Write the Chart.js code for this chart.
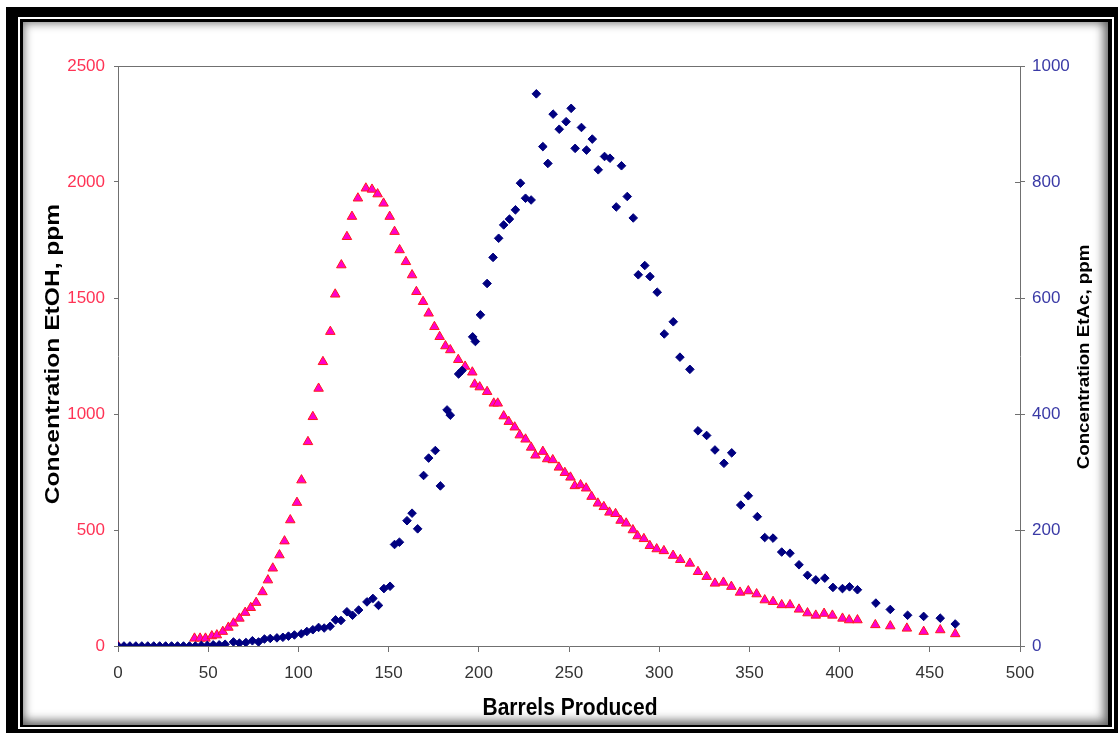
<!DOCTYPE html>
<html>
<head>
<meta charset="utf-8">
<title>EtOH / EtAc vs Barrels Produced</title>
<script src="https://cdn.jsdelivr.net/npm/chart.js@4.4.0/dist/chart.umd.min.js"></script>
<style>
    html, body { margin: 0; padding: 0; background: #fff; }
    body { width: 1118px; height: 736px; position: relative; overflow: hidden; }
    .box { position: absolute; }
    #frameOuter { left: 6px; top: 7px; width: 1112px; height: 726px; background: #000; }
    #frameGap { left: 18px; top: 17px; width: 1096px; height: 712px; background: #fff; }
    #frameLine { left: 20px; top: 19px; width: 1092px; height: 708px; background: #000; }
    #frameInner {
        left: 23px; top: 22px; width: 1085px; height: 703px; background: #fff;
        box-shadow: inset 0 0 9px 2px rgba(0, 0, 0, 0.45), inset -6px -6px 10px rgba(0, 0, 0, 0.3);
    }
    #c { position: absolute; left: 0; top: 0; }
</style>
</head>
<body>
<div class="box" id="frameOuter"></div>
<div class="box" id="frameGap"></div>
<div class="box" id="frameLine"></div>
<div class="box" id="frameInner"></div>
<canvas id="c" width="1118" height="736"></canvas>

<script>
// EtOH (left axis, ppm) - pink triangles
const etohX = [0, 42.4, 45.5, 48.5, 52, 54.8, 58.1, 61.2, 64, 67.3, 70.5, 73.6, 76.6, 80.1, 83.1, 85.8, 89.5, 92.3, 95.5,
    99.2, 101.7, 105.3, 108, 111.2, 113.6, 117.7, 120.4, 123.8, 126.9, 129.7, 133, 137.4, 140.8, 143.9, 147.2, 150.6,
    153.3, 156.1, 159.6, 163, 165.4, 169.1, 172.2, 175.4, 178.3, 181.5, 184.2, 188.6, 192.4, 196.4, 197.7, 200.5, 204.6,
    208.3, 210.5, 213.8, 216.6, 219.9, 222.7, 225.9, 229, 231.4, 235.5, 237.9, 241, 244.4, 247.7, 250.8, 253.2, 256.4,
    259.5, 262.5, 266, 269.3, 272.4, 275.8, 278.6, 281.7, 285.4, 288, 291.5, 294.8, 298.6, 302.6, 307.7, 311.7, 317,
    321.5, 326.3, 330.9, 335.6, 340, 344.8, 349.4, 354, 358.5, 363.1, 367.9, 372.5, 377.5, 382.2, 386.8, 391.4, 396,
    401.6, 405.3, 409.9, 419.8, 428.1, 437.3, 446.6, 455.8, 464.1];
const etohY = [0, 33, 33, 33, 43, 47, 62, 80, 98, 119, 144, 165, 187, 233, 284, 335, 392, 452, 543,
    618, 715, 880, 988, 1110, 1225, 1355, 1516, 1642, 1764, 1851, 1930, 1973, 1968, 1948, 1908, 1851,
    1786, 1707, 1656, 1599, 1527, 1484, 1434, 1376, 1333, 1293, 1276, 1234, 1205, 1180, 1128, 1116, 1096,
    1046, 1046, 991, 967, 943, 909, 891, 856, 822, 838, 806, 802, 770, 747, 727, 690, 694,
    680, 644, 615, 600, 576, 570, 541, 529, 500, 474, 462, 432, 418, 410, 390, 372, 356,
    320, 299, 270, 274, 256, 231, 237, 224, 198, 191, 177, 177, 158, 142, 132, 140, 132,
    119, 112, 112, 91, 86, 76, 62, 69, 52];

// EtAc (right axis, ppm) - navy diamonds
const etacX = [0, 3.3, 6.6, 9.9, 13.2, 16.5, 19.8, 23.1, 26.4, 29.7, 33, 36.3, 39.6, 42.9, 46.2, 49.5, 52.8, 56.1, 59.4,
    64, 67.3, 70.9, 74.5, 77.9, 81.2, 84.4, 88.1, 91.4, 94.5, 97.8, 101.6, 104.7, 108, 111.2, 114.3, 117.6, 120.6,
    123.6, 126.9, 130, 133.4, 138, 141.3, 144.4, 147.4, 150.8, 153.3, 156, 160.2, 163, 166.1, 169.4, 172.2, 175.9,
    178.7, 182.4, 184.2, 188.8, 190.7, 196.6, 198.1, 200.9, 204.6, 207.9, 211, 213.8, 217, 220.3, 223.1, 225.9, 229,
    231.9, 235.5, 238.3, 241.2, 244.6, 248.4, 251.2, 253.4, 256.9, 259.7, 262.9, 266.2, 269.7, 272.7, 276.2, 279.1,
    282.3, 285.6, 288.4, 292, 294.9, 298.9, 302.8, 307.8, 311.5, 317, 321.5, 326.3, 330.9, 335.9, 340.2, 345.2, 349.4,
    354.4, 358.5, 363.1, 367.9, 372.5, 377.5, 382.2, 386.8, 391.8, 396.3, 401.6, 405.5, 409.9, 420.1, 428.1, 437.7,
    446.6, 455.8, 464.1];
const etacY = [0, 0, 0, 0, 0, 0, 0, 0, 0, 0, 0, 0, 0, 0, 1, 1, 2, 2, 3,
    7, 5, 6, 9, 7, 12, 13, 14, 15, 17, 19, 21, 25, 28, 32, 31, 34, 45,
    44, 59, 53, 62, 76, 82, 70, 99, 103, 175, 179, 216, 229, 202, 294, 324, 337,
    276, 407, 398, 469, 475, 533, 525, 571, 625, 670, 703, 726, 736, 752, 798, 772, 769,
    952, 861, 832, 917, 891, 904, 927, 858, 894, 855, 874, 821, 844, 841, 757, 828,
    775, 738, 640, 656, 637, 610, 538, 559, 498, 477, 371, 363, 338, 315, 333, 243, 259,
    223, 187, 186, 162, 160, 140, 122, 114, 117, 101, 99, 102, 97, 74, 63, 53,
    51, 48, 38];

const xTicks = [0, 500, 50];
const leftTicks = [0, 2500, 500];
const rightTicks = [0, 1000, 200];

const FONT = "'Liberation Sans', Arial, sans-serif";
const axisGray = '#707070';

function toPoints(xs, ys) {
    return xs.map((x, i) => ({ x: x, y: ys[i] }));
}

// no thousands separator on the tick labels
const plainLabel = value => String(value);

// draws a stretched label (the source image is a bit stretched vertically)
function stretchedText(ctx, text, x, y, rot, size, sx, sy) {
    ctx.save();
    ctx.translate(x, y);
    ctx.rotate(rot);
    ctx.scale(sx, sy);
    ctx.font = 'bold ' + size + 'px ' + FONT;
    ctx.fillStyle = '#000';
    ctx.textAlign = 'center';
    ctx.textBaseline = 'middle';
    ctx.fillText(text, 0, 0);
    ctx.restore();
}

const framePlugin = {
    id: 'frameAndTitles',
    afterDraw(chart) {
        const ctx = chart.ctx;
        const a = chart.chartArea;
        ctx.save();
        ctx.strokeStyle = axisGray;
        ctx.lineWidth = 1;
        ctx.beginPath();
        ctx.moveTo(a.left, a.top + 0.5);
        ctx.lineTo(a.right, a.top + 0.5);
        ctx.stroke();
        // inner half of the right axis tick marks
        const y2 = chart.scales.y2;
        ctx.beginPath();
        y2.ticks.forEach(t => {
            const py = Math.round(y2.getPixelForValue(t.value)) + 0.5;
            ctx.moveTo(a.right - 5, py);
            ctx.lineTo(a.right, py);
        });
        ctx.stroke();
        ctx.restore();

        stretchedText(ctx, 'Concentration EtOH, ppm', 53, 354, -Math.PI / 2, 21, 1.17, 1);
        stretchedText(ctx, 'Concentration EtAc, ppm', 1085, 357, -Math.PI / 2, 16, 1.17, 1);
        stretchedText(ctx, 'Barrels Produced', 570, 708, 0, 21, 1, 1.17);
    }
};

const ctx = document.getElementById('c').getContext('2d');

new Chart(ctx, {
    type: 'scatter',
    data: {
        datasets: [{
            label: 'EtAc',
            data: toPoints(etacX, etacY),
            yAxisID: 'y2',
            pointStyle: 'rectRot',
            pointRadius: 4.3,
            backgroundColor: '#000080',
            borderColor: '#000080',
            borderWidth: 1,
            order: 0
        }, {
            label: 'EtOH',
            data: toPoints(etohX, etohY),
            yAxisID: 'y',
            pointStyle: 'triangle',
            pointRadius: 5.5,
            backgroundColor: '#ff00cc',
            borderColor: '#ff1a1a',
            borderWidth: 1,
            order: 1
        }]
    },
    options: {
        responsive: false,
        animation: false,
        events: [],
        layout: { padding: { top: 66, left: 0, right: 0, bottom: 0 } },
        plugins: {
            legend: { display: false },
            tooltip: { enabled: false }
        },
        scales: {
            x: {
                type: 'linear',
                min: xTicks[0],
                max: xTicks[1],
                ticks: {
                    stepSize: xTicks[2],
                    color: '#333',
                    font: { family: FONT, size: 17 },
                    padding: 11,
                    maxRotation: 0,
                    callback: plainLabel
                },
                grid: { drawOnChartArea: false, tickLength: 6, color: axisGray },
                border: { color: axisGray, width: 1 },
                afterFit: s => { s.height = 90; }
            },
            y: {
                type: 'linear',
                position: 'left',
                min: leftTicks[0],
                max: leftTicks[1],
                ticks: {
                    stepSize: leftTicks[2],
                    color: '#ff3355',
                    font: { family: FONT, size: 17 },
                    padding: 9,
                    callback: plainLabel
                },
                grid: { drawOnChartArea: false, tickLength: 4, color: axisGray },
                border: { color: axisGray, width: 1 },
                afterFit: s => { s.width = 118; }
            },
            y2: {
                type: 'linear',
                position: 'right',
                min: rightTicks[0],
                max: rightTicks[1],
                ticks: {
                    stepSize: rightTicks[2],
                    color: '#3a3aa6',
                    font: { family: FONT, size: 17 },
                    padding: 7,
                    callback: plainLabel
                },
                grid: { drawOnChartArea: false, tickLength: 5, color: axisGray },
                border: { color: axisGray, width: 1 },
                afterFit: s => { s.width = 98; }
            }
        }
    },
    plugins: [framePlugin]
});
</script>
</body>
</html>
